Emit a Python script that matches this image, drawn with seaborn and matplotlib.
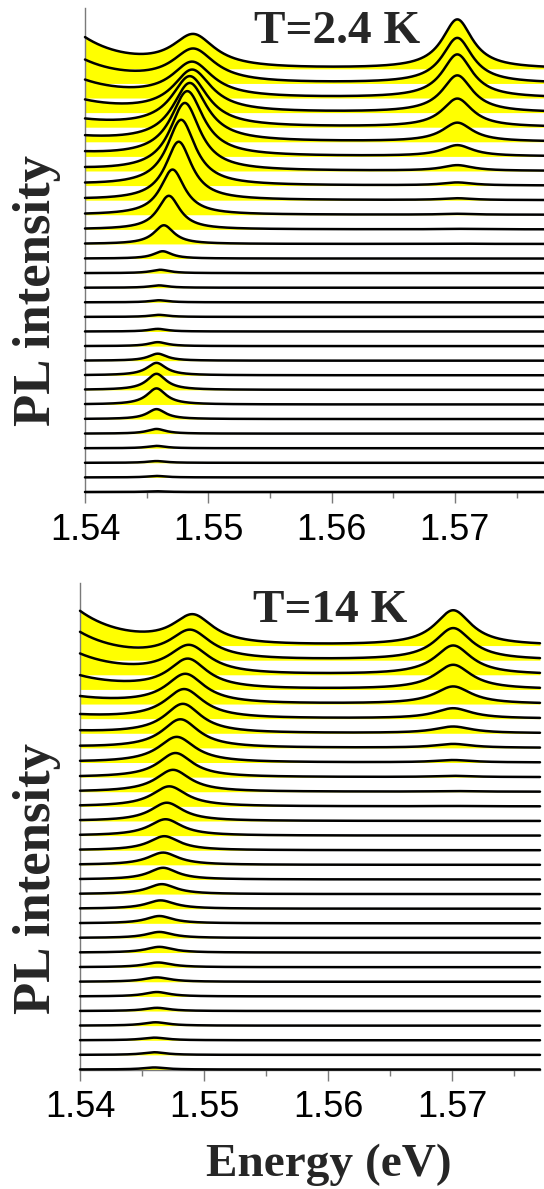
import numpy as np
import pandas as pd
import matplotlib
matplotlib.use("Agg")
import matplotlib.pyplot as plt
import seaborn as sns

# ---- axis text ----
major_ticks = [1.54, 1.55, 1.56, 1.57]
major_tick_labels = ["1.54", "1.55", "1.56", "1.57"]
minor_ticks = [1.545, 1.555, 1.565, 1.575]
panel_titles = ["T=2.4 K", "T=14 K"]
y_label = "PL intensity"
x_label = "Energy (eV)"

# ---- line-shape parameters of each spectrum (bottom trace first) ----
# T = 2.4 K
exc_amp_a = [0.05, 0.10, 0.12, 0.16, 0.32, 0.68, 1.10, 1.10, 0.85, 0.48,
             0.27, 0.18, 0.14, 0.14, 0.16, 0.23, 0.50, 1.28, 2.30, 3.10,
             4.00, 4.50, 4.65, 4.45, 4.00, 3.45, 2.87, 2.38, 2.25, 2.20]
exc_pos_a = [1.5458, 1.5458, 1.5458, 1.5458, 1.5458, 1.5458, 1.5458, 1.5458, 1.5458, 1.5459,
             1.5459, 1.5459, 1.5460, 1.5460, 1.5460, 1.5461, 1.5463, 1.5464, 1.5468, 1.5471,
             1.5476, 1.5478, 1.5481, 1.5483, 1.5485, 1.5485, 1.5487, 1.5487, 1.5488, 1.5488]
exc_hw_a = [0.0009, 0.0009, 0.0009, 0.0009, 0.0009, 0.0009, 0.00095, 0.00095, 0.00095, 0.0009,
            0.0009, 0.0009, 0.0009, 0.0009, 0.0009, 0.0009, 0.0009, 0.0010, 0.0011, 0.0012,
            0.0013, 0.0014, 0.0015, 0.0016, 0.0017, 0.0018, 0.0019, 0.0020, 0.0021, 0.0021]
hi_amp_a = [0, 0, 0, 0, 0, 0, 0, 0, 0, 0,
            0, 0, 0, 0, 0, 0, 0, 0.02, 0.03, 0.06,
            0.12, 0.20, 0.38, 0.75, 1.29, 1.94, 2.53, 2.97, 3.10, 3.37]
tail_amp_a = [0, 0, 0, 0, 0, 0, 0, 0, 0, 0,
              0, 0, 0, 0, 0, 0, 0, 0, 0, 0,
              0.04, 0.07, 0.12, 0.20, 0.30, 0.45, 0.77, 1.14, 1.51, 2.05]
hi_pos_a, hi_hw_a, tail_decay_a = 1.5702, 0.0015, 0.0036

# T = 14 K
exc_amp_b = [0.14, 0.18, 0.18, 0.23, 0.22, 0.30, 0.30, 0.32, 0.39, 0.41,
             0.50, 0.57, 0.68, 0.80, 0.84, 0.96, 1.12, 1.25, 1.37, 1.50,
             1.65, 1.75, 1.95, 2.00, 2.00, 2.02, 2.02, 1.92, 1.92, 1.95]
exc_pos_b = [1.5460, 1.5460, 1.5460, 1.5461, 1.5462, 1.5462, 1.5462, 1.5463, 1.5464, 1.5464,
             1.5464, 1.5465, 1.5466, 1.5467, 1.5467, 1.5468, 1.5469, 1.5470, 1.5472, 1.5475,
             1.5477, 1.5478, 1.5481, 1.5483, 1.5484, 1.5485, 1.5487, 1.5488, 1.5489, 1.5491]
exc_hw_b = [0.0011, 0.0011, 0.0012, 0.0012, 0.0012, 0.0012, 0.0013, 0.0013, 0.0013, 0.0013,
            0.0013, 0.0014, 0.0014, 0.0014, 0.0015, 0.0015, 0.0016, 0.0016, 0.0017, 0.0017,
            0.0017, 0.0018, 0.0018, 0.0018, 0.0019, 0.0019, 0.0019, 0.0020, 0.0020, 0.0020]
hi_amp_b = [0, 0, 0, 0, 0, 0, 0, 0, 0, 0,
            0, 0, 0, 0, 0, 0, 0, 0, 0.02, 0.04,
            0.08, 0.16, 0.26, 0.45, 0.70, 1.19, 1.67, 1.99, 2.18, 2.40]
tail_amp_b = [0, 0, 0, 0, 0, 0, 0, 0, 0, 0,
              0, 0, 0, 0, 0, 0, 0, 0, 0, 0,
              0, 0.03, 0.06, 0.12, 0.22, 0.45, 0.88, 1.36, 1.84, 2.28]
hi_pos_b, hi_hw_b, tail_decay_b = 1.5701, 0.0018, 0.0036

# energy window of each panel
e_max = [1.57723, 1.57710]


def lorentz(E, amp, pos, hw):
    return amp / (1.0 + ((E - pos) / hw) ** 2)


def build_frame(emax, exc_amp, exc_pos, exc_hw, hi_amp, hi_pos, hi_hw, tail_amp, decay):
    energy = np.linspace(1.54, emax, 900)
    rows = []
    for k in range(len(exc_amp)):
        pl = (lorentz(energy, exc_amp[k], exc_pos[k], exc_hw[k])
              + lorentz(energy, hi_amp[k], hi_pos, hi_hw)
              + tail_amp[k] * np.exp(-(energy - 1.54) / decay))
        rows.append(pd.DataFrame({"energy": energy, "base": float(k),
                                  "signal": k + pl, "trace": k}))
    return pd.concat(rows, ignore_index=True)


frames = [
    build_frame(e_max[0], exc_amp_a, exc_pos_a, exc_hw_a, hi_amp_a, hi_pos_a, hi_hw_a,
                tail_amp_a, tail_decay_a),
    build_frame(e_max[1], exc_amp_b, exc_pos_b, exc_hw_b, hi_amp_b, hi_pos_b, hi_hw_b,
                tail_amp_b, tail_decay_b),
]

sns.set_style("ticks")
plt.rcParams["font.family"] = ["Liberation Sans", "DejaVu Sans"]

W, H = 544, 1189
fig = plt.figure(figsize=(W / 100, H / 100), dpi=100)

# axes boxes in pixels: left, top, right, bottom
boxes = [(85, 8, 544, 492), (80, 583, 540, 1069.5)]
ytop = [33.17, 33.28]

spine_grey = "#7a7a7a"
serif_bold = dict(family=["Liberation Serif", "DejaVu Serif"], weight="bold")

for i, (df, box) in enumerate(zip(frames, boxes)):
    l, t, r, b = box
    ax = fig.add_axes([l / W, 1 - b / H, (r - l) / W, (b - t) / H])
    for k, g in df.groupby("trace"):
        ax.fill_between(g["energy"], g["base"], g["signal"], color="#ffff00",
                        lw=0, zorder=1)
    sns.lineplot(data=df, x="energy", y="signal", units="trace", estimator=None,
                 color="black", lw=1.8, sort=False, legend=False, ax=ax, zorder=3)
    ax.set_xlim(1.54, e_max[i])
    ax.set_ylim(0, ytop[i])
    ax.set_xlabel("")
    ax.set_ylabel("")
    ax.set_yticks([])
    ax.set_xticks(major_ticks)
    ax.set_xticklabels(major_tick_labels)
    ax.set_xticks(minor_ticks, minor=True)
    ax.tick_params(axis="x", which="major", direction="out", length=8, width=1,
                   color=spine_grey, labelsize=26, labelcolor="black", pad=7)
    ax.tick_params(axis="x", which="minor", direction="out", length=4, width=1,
                   color=spine_grey)
    for s in ("top", "right"):
        ax.spines[s].set_visible(False)
    for s in ("left", "bottom"):
        ax.spines[s].set_color(spine_grey)
        ax.spines[s].set_linewidth(1.0)
    for line in ax.lines:
        line.set_clip_on(False)

# panel titles, y labels and the energy label
fig.text(337 / W, 1 - 43.3 / H, panel_titles[0], ha="center", va="baseline",
         fontsize=34, **serif_bold)
fig.text(330 / W, 1 - 621.7 / H, panel_titles[1], ha="center", va="baseline",
         fontsize=34, **serif_bold)
fig.text(37 / W, 1 - 291 / H, y_label, rotation=90, ha="center", va="center",
         fontsize=38, **serif_bold)
fig.text(37 / W, 1 - 878 / H, y_label, rotation=90, ha="center", va="center",
         fontsize=38, **serif_bold)
fig.text(329 / W, 1 - 1176 / H, x_label, ha="center", va="baseline",
         fontsize=34, **serif_bold)

fig.savefig("out.png", dpi=100)
